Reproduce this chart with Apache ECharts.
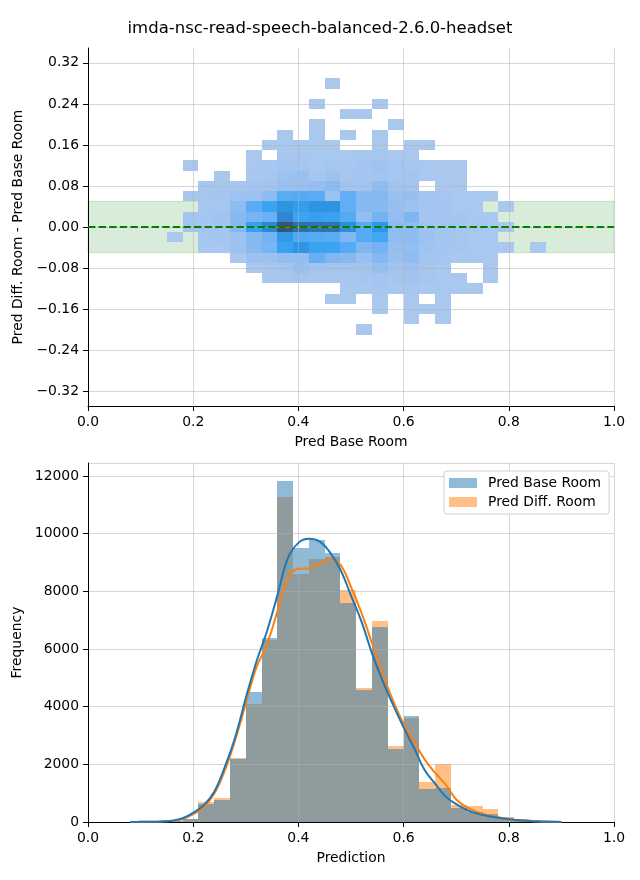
<!DOCTYPE html>
<html>
<head>
<meta charset="utf-8">
<script src="https://cdn.jsdelivr.net/npm/echarts@6/dist/echarts.min.js"></script>
<style>html,body{margin:0;padding:0;background:#fff}#c{width:640px;height:880px}</style>
</head>
<body>
<div id="c"></div>
<script>
// ---------- data ----------
const chartTitle = 'imda-nsc-read-speech-balanced-2.6.0-headset';
const seriesNames = ['Pred Base Room', 'Pred Diff. Room'];

// 2D histogram: bin left edges (x) and bin centres (y), counts per row (top row first)
const heatXLeft = [0.15,0.18,0.21,0.24,0.27,0.30,0.33,0.36,0.39,0.42,0.45,0.48,0.51,0.54,0.57,0.60,0.63,0.66,0.69,0.72,0.75,0.78,0.81,0.84];
const heatBinW = 0.03;
const heatYCenters = [0.28,0.26,0.24,0.22,0.20,0.18,0.16,0.14,0.12,0.10,0.08,0.06,0.04,0.02,0.00,-0.02,-0.04,-0.06,-0.08,-0.10,-0.12,-0.14,-0.16,-0.18,-0.20];
const heatBinH = 0.02;
const heatCounts = [
 [0,0,0,0,0,0,0,0,0,0,2,0,0,0,0,0,0,0,0,0,0,0,0,0],
 [0,0,0,0,0,0,0,0,0,0,0,0,0,0,0,0,0,0,0,0,0,0,0,0],
 [0,0,0,0,0,0,0,0,0,2,0,0,0,2,0,0,0,0,0,0,0,0,0,0],
 [0,0,0,0,0,0,0,0,0,0,0,2,2,0,0,0,0,0,0,0,0,0,0,0],
 [0,0,0,0,0,0,0,0,0,2,0,0,0,0,2,0,0,0,0,0,0,0,0,0],
 [0,0,0,0,0,0,0,2,0,2,0,2,0,2,0,0,0,0,0,0,0,0,0,0],
 [0,0,0,0,0,0,2,2,3,2,2,0,0,2,0,2,2,0,0,0,0,0,0,0],
 [0,0,0,0,0,2,0,4,4,3,3,3,4,5,2,2,0,0,0,0,0,0,0,0],
 [0,2,0,0,0,2,4,6,5,3,5,4,6,9,5,4,2,2,2,0,0,0,0,0],
 [0,0,0,2,0,4,5,10,12,5,10,5,6,7,5,6,3,2,2,0,0,0,0,0],
 [0,0,4,4,5,6,7,12,12,14,18,7,7,16,7,6,0,2,2,0,0,0,0,0],
 [0,4,5,6,9,10,17,33,34,33,11,31,20,21,12,13,6,5,3,2,2,0,0,0],
 [0,0,5,4,17,33,41,54,45,54,54,31,20,19,13,10,6,6,3,3,0,2,0,0],
 [0,6,5,8,19,25,29,62,40,43,41,34,15,26,14,23,6,6,5,3,2,0,0,0],
 [0,6,6,6,20,43,62,100,82,78,78,58,34,50,17,16,8,6,6,4,3,2,0,0],
 [2,0,5,6,10,20,26,48,35,34,33,22,34,38,16,17,10,6,5,3,3,0,0,0],
 [0,0,3,3,10,19,24,42,52,40,40,34,22,26,13,15,8,6,5,3,3,2,0,2],
 [0,0,0,0,3,10,10,14,15,30,22,20,12,21,12,16,6,5,3,2,2,0,0,0],
 [0,0,0,0,0,3,5,6,12,7,6,6,7,13,7,10,5,3,0,0,2,0,0,0],
 [0,0,0,0,0,0,3,4,6,4,4,4,5,6,5,7,5,3,2,0,2,0,0,0],
 [0,0,0,0,0,0,0,0,0,0,0,2,3,5,3,5,3,3,2,2,0,0,0,0],
 [0,0,0,0,0,0,0,0,0,0,2,2,0,2,0,2,0,2,0,0,0,0,0,0],
 [0,0,0,0,0,0,0,0,0,0,0,0,0,2,0,2,2,2,0,0,0,0,0,0],
 [0,0,0,0,0,0,0,0,0,0,0,0,0,0,0,2,0,2,0,0,0,0,0,0],
 [0,0,0,0,0,0,0,0,0,0,0,0,2,0,0,0,0,0,0,0,0,0,0,0]
];
const diffTicks = [-0.32,-0.24,-0.16,-0.08,0,0.08,0.16,0.24,0.32];
const diffRange = [-0.349, 0.349];
const refValue = 0;
const bandHalf = 0.05;

// 1D histograms
const histLeft = [0.09,0.12,0.15,0.18,0.21,0.24,0.27,0.30,0.33,0.36,0.39,0.42,0.45,0.48,0.51,0.54,0.57,0.60,0.63,0.66,0.69,0.72,0.75,0.78,0.81,0.84,0.87];
const histBinW = 0.03;
const baseCounts = [10,15,30,90,640,760,2180,4500,6380,11830,9500,9780,9330,7600,4590,6760,2540,3670,1140,1190,500,360,280,130,80,40,20];
const diffCounts = [15,20,40,110,690,820,2230,4100,6300,11270,8600,9120,9190,8030,4650,6960,2630,3600,1390,2000,590,560,450,180,100,50,20];

// KDE curves (scaled to counts)
const kdeX = [0.08,0.10,0.12,0.14,0.16,0.18,0.20,0.22,0.24,0.26,0.28,0.30,0.32,0.34,0.36,0.38,0.40,0.42,0.44,0.46,0.48,0.50,0.52,0.54,0.56,0.58,0.60,0.62,0.64,0.66,0.68,0.70,0.72,0.74,0.76,0.78,0.80,0.82,0.84,0.86,0.88,0.90];
const kdeBase = [0,5,10,20,45,130,320,580,1050,1900,2950,4300,5550,6600,7850,9150,9680,9820,9730,9350,8750,7850,6950,5850,4900,4060,3280,2560,1800,1330,880,620,420,290,210,150,100,60,35,20,10,3];
const kdeDiff = [0,5,10,20,40,100,270,520,980,1780,2850,4100,5350,6150,7300,8450,8780,8800,8950,9110,8920,8150,7250,6200,5150,4210,3400,2780,2170,1700,1300,780,520,350,240,165,105,62,36,20,10,3];

// ---------- build ----------
const FONT = 'DejaVu Sans';
const heatData = [];
heatYCenters.forEach(function (yc, r) {
  heatXLeft.forEach(function (x0, c) {
    const v = heatCounts[r][c];
    if (v > 0) heatData.push([x0, x0 + heatBinW, yc - heatBinH / 2, yc + heatBinH / 2, v]);
  });
});
function histData(counts) {
  return histLeft.map(function (x0, i) { return [x0, x0 + histBinW, counts[i]]; });
}
function zip(xs, ys) { return xs.map(function (x, i) { return [x, ys[i]]; }); }

function rectItem(api, x0, x1, y0, y1, fill) {
  const a = api.coord([x0, y1]), b = api.coord([x1, y0]);
  const L = Math.round(a[0]), T = Math.round(a[1]), R = Math.round(b[0]), B = Math.round(b[1]);
  return { type: 'rect', shape: { x: L, y: T, width: R - L, height: B - T }, style: { fill: fill } };
}

const gridLine = { show: true, lineStyle: { color: 'rgba(176,176,176,0.5)', width: 1 } };
const axisLineStyle = { show: true, onZero: false, lineStyle: { color: '#000', width: 1 } };
const tickStyle = { show: true, length: 5, inside: false, lineStyle: { color: '#000', width: 1 } };
const labelBase = { color: '#000', fontSize: 13.9, fontFamily: FONT, margin: 9 };
const nameStyle = { color: '#000', fontSize: 13.9, fontFamily: FONT };

const chart = echarts.init(document.getElementById('c'), null, { renderer: 'canvas' });
chart.setOption({
  animation: false,
  backgroundColor: '#fff',
  title: { text: chartTitle, left: 'center', top: 20, padding: 0,
    textStyle: { fontSize: 16.5, fontWeight: 'normal', color: '#000', fontFamily: FONT } },
  legend: {
    orient: 'vertical', left: 444, top: 471, padding: [5, 8, 5, 5], itemGap: 5,
    itemWidth: 28, itemHeight: 10, backgroundColor: '#fff', borderColor: '#d0d0d0', borderWidth: 1, borderRadius: 3,
    textStyle: { color: '#000', fontSize: 13.9, fontFamily: FONT, padding: [0, 0, 0, 6] },
    data: [
      { name: seriesNames[0], icon: 'rect', itemStyle: { color: '#8fbbd9', borderWidth: 0 } },
      { name: seriesNames[1], icon: 'rect', itemStyle: { color: '#ffbf86', borderWidth: 0 } }
    ]
  },
  grid: [
    { left: 88, top: 48, width: 526, height: 358 },
    { left: 88, top: 463, width: 526, height: 359 }
  ],
  visualMap: {
    show: false, seriesIndex: 1, dimension: 4, min: 0, max: 100,
    inRange: { color: ['#adcaee','#9dc2f0','#86b9f2','#66aff4','#3aa4f2','#2e98e8','#2d8bd6','#307dbf','#3470a6','#38628c','#3c5472'] }
  },
  xAxis: [
    { type: 'value', gridIndex: 0, min: 0, max: 1, interval: 0.2, z: 3,
      axisLine: axisLineStyle, axisTick: tickStyle, splitLine: gridLine,
      axisLabel: Object.assign({}, labelBase, { formatter: function (v) { return v.toFixed(1); } }),
      name: 'Pred Base Room', nameLocation: 'middle', nameGap: 29, nameTextStyle: nameStyle },
    { type: 'value', gridIndex: 1, min: 0, max: 1, interval: 0.2, z: 3,
      axisLine: axisLineStyle, axisTick: tickStyle, splitLine: gridLine,
      axisLabel: Object.assign({}, labelBase, { formatter: function (v) { return v.toFixed(1); } }),
      name: 'Prediction', nameLocation: 'middle', nameGap: 29, nameTextStyle: nameStyle }
  ],
  yAxis: [
    { type: 'value', gridIndex: 0, min: diffRange[0], max: diffRange[1], z: 3,
      axisLine: axisLineStyle,
      axisTick: Object.assign({}, tickStyle, { customValues: diffTicks }),
      splitLine: gridLine,
      axisLabel: Object.assign({}, labelBase, { customValues: diffTicks,
        formatter: function (v) { return v.toFixed(2).replace('-', '\u2212'); } }),
      name: 'Pred Diff. Room - Pred Base Room', nameLocation: 'middle', nameGap: 51, nameTextStyle: nameStyle },
    { type: 'value', gridIndex: 1, min: 0, max: 12450, interval: 2000, z: 3,
      axisLine: axisLineStyle, axisTick: tickStyle, splitLine: gridLine,
      axisLabel: Object.assign({}, labelBase, { formatter: function (v) { return String(v); } }),
      name: 'Frequency', nameLocation: 'middle', nameGap: 51, nameTextStyle: nameStyle }
  ],
  series: [
    { type: 'line', xAxisIndex: 0, yAxisIndex: 0, data: [], z: 1, silent: true,
      markArea: { silent: true,
        itemStyle: { color: 'rgba(0,128,0,0.15)', borderColor: 'rgba(0,128,0,0.15)', borderWidth: 1 },
        data: [[{ yAxis: refValue - bandHalf }, { yAxis: refValue + bandHalf }]] } },
    { type: 'custom', name: 'heat', xAxisIndex: 0, yAxisIndex: 0, z: 2, silent: true,
      data: heatData, encode: { x: [0, 1], y: [2, 3] },
      renderItem: function (params, api) {
        return rectItem(api, api.value(0), api.value(1), api.value(2), api.value(3), api.visual('color'));
      } },
    { type: 'line', xAxisIndex: 0, yAxisIndex: 0, data: [], z: 5, silent: true,
      markLine: { silent: true, symbol: 'none', label: { show: false },
        lineStyle: { color: '#008000', width: 2, type: [7.4, 3.2] },
        data: [{ yAxis: refValue }] } },
    { type: 'custom', name: seriesNames[1], xAxisIndex: 1, yAxisIndex: 1, z: 2, silent: true,
      data: histData(diffCounts), encode: { x: [0, 1], y: 2 },
      itemStyle: { color: '#ffbf86' },
      renderItem: function (params, api) {
        return rectItem(api, api.value(0), api.value(1), 0, api.value(2), 'rgba(255,127,14,0.5)');
      } },
    { type: 'custom', name: seriesNames[0], xAxisIndex: 1, yAxisIndex: 1, z: 2, silent: true,
      data: histData(baseCounts), encode: { x: [0, 1], y: 2 },
      itemStyle: { color: '#8fbbd9' },
      renderItem: function (params, api) {
        return rectItem(api, api.value(0), api.value(1), 0, api.value(2), 'rgba(31,119,180,0.5)');
      } },
    { type: 'line', name: 'kde diff', xAxisIndex: 1, yAxisIndex: 1, z: 4, silent: true,
      data: zip(kdeX, kdeDiff), smooth: 0.4, showSymbol: false, symbol: 'none',
      lineStyle: { color: '#ff7f0e', width: 2 } },
    { type: 'line', name: 'kde base', xAxisIndex: 1, yAxisIndex: 1, z: 4, silent: true,
      data: zip(kdeX, kdeBase), smooth: 0.4, showSymbol: false, symbol: 'none',
      lineStyle: { color: '#1f77b4', width: 2 } }
  ]
});
</script>
</body>
</html>
